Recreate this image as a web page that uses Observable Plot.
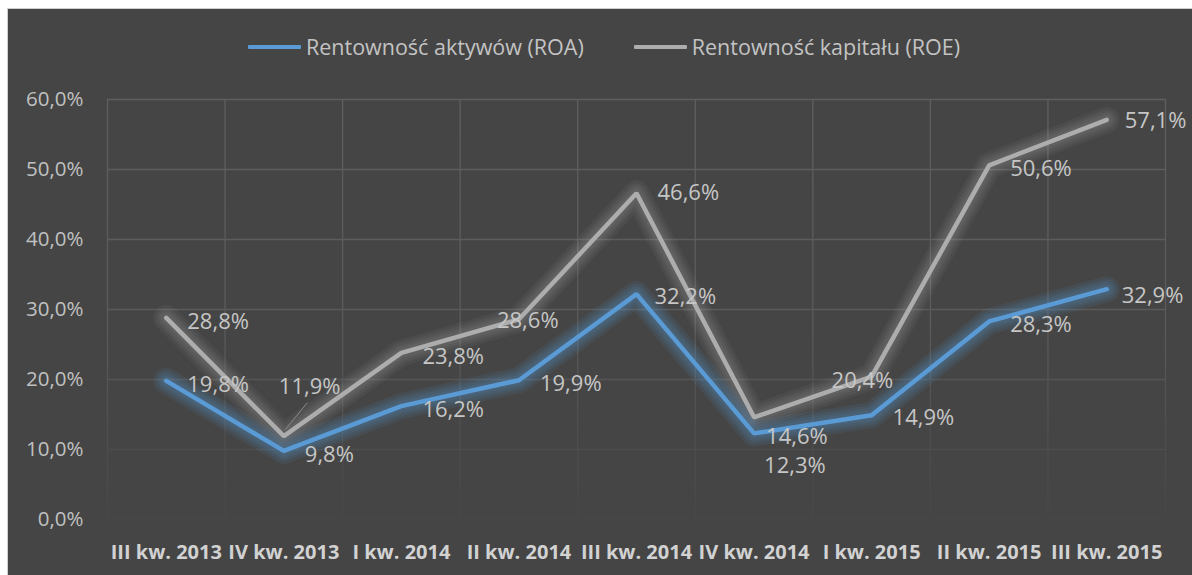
<!DOCTYPE html>
<html>
<head>
<meta charset="utf-8">
<script src="https://cdn.jsdelivr.net/npm/d3@7"></script>
<script src="https://cdn.jsdelivr.net/npm/@observablehq/plot@0.6"></script>
<style>
  html, body { margin: 0; padding: 0; background: #ffffff; }
  body { width: 1192px; height: 575px; overflow: hidden; position: relative; font-family: "Open Sans", sans-serif; }
  #frame {
    position: absolute; left: 7px; top: 8px; width: 1184px; height: 566px;
    border-left: 1px solid #cfcfcf; border-top: 1px solid #cfcfcf;
    background: #454545;
  }
  #legend {
    height: 70px; box-sizing: border-box; padding-top: 23px; padding-left: 8px;
    display: flex; justify-content: center; align-items: flex-start;
    font-size: 21.5px; line-height: 30px; color: #c3c3c3;
  }
  .item { display: flex; align-items: center; margin: 0 25px; }
  .sw { width: 53px; height: 4px; margin-right: 5px; border-radius: 1px; }
  #chart svg { display: block; }
</style>
</head>
<body>
<div id="frame">
  <div id="legend"></div>
  <div id="chart"></div>
</div>
<script>
// ---- data ----
const categories = ["III kw. 2013", "IV kw. 2013", "I kw. 2014", "II kw. 2014", "III kw. 2014", "IV kw. 2014", "I kw. 2015", "II kw. 2015", "III kw. 2015"];
const roa = [19.8, 9.8, 16.2, 19.9, 32.2, 12.3, 14.9, 28.3, 32.9];
const roe = [28.8, 11.9, 23.8, 28.6, 46.6, 14.6, 20.4, 50.6, 57.1];
const seriesNames = ["Rentowność aktywów (ROA)", "Rentowność kapitału (ROE)"];
const yTicks = [0, 10, 20, 30, 40, 50, 60];

// ---- styling ----
const colors = ["#5b9bd5", "#adadad"];
const fmt = v => v.toFixed(1).replace(".", ",") + "%";

// legend
const legend = document.getElementById("legend");
seriesNames.forEach((name, k) => {
  const it = document.createElement("div");
  it.className = "item";
  it.innerHTML = `<span class="sw" style="background:${colors[k]}"></span><span>${name}</span>`;
  legend.appendChild(it);
});

// table
const rows = [];
categories.forEach((c, i) => {
  rows.push({i, cat: c, v: roa[i], s: 0});
  rows.push({i, cat: c, v: roe[i], s: 1});
});
const roaRows = rows.filter(d => d.s === 0);
const roeRows = rows.filter(d => d.s === 1);
const bounds = d3.range(categories.length + 1).map(i => i - 0.5);

// label nudges in pixels (default dx 21, dy 4)
const nudge = {
  "1-1": [-5, -49], "1-3": [-22, 2], "1-5": [12, 20], "1-6": [-40, 4],
  "0-5": [10, 33], "0-8": [15, 7], "0-4": [18, 3], "1-8": [18, 1], "1-4": [21, 0], "0-6": [21, 3]
};
const labelMarks = rows.map(d => {
  const [dx, dy] = nudge[`${d.s}-${d.i}`] || [21, 4];
  return Plot.text([d], {x: "i", y: "v", text: d => fmt(d.v), dx, dy, textAnchor: "start",
    fill: "#c6c6c6", fontSize: 22});
});

const leader = (index, scales) => {
  const x = scales.x(1), y = scales.y(roe[1]);
  const l = document.createElementNS("http://www.w3.org/2000/svg", "line");
  l.setAttribute("x1", x + 2); l.setAttribute("y1", y - 6);
  l.setAttribute("x2", x + 24); l.setAttribute("y2", y - 33);
  l.setAttribute("stroke", "#8a8a8a"); l.setAttribute("stroke-width", 1);
  return l;
};

// soft glow under each series: stacked wide translucent strokes
const glow = (data, color, a) => [26, 20, 15, 10].map(w =>
  Plot.line(data, {x: "i", y: "v", stroke: color, strokeWidth: w, strokeOpacity: a, strokeLinejoin: "round", strokeLinecap: "round"})
);

const plot = Plot.plot({
  width: 1184,
  height: 496,
  marginTop: 20,
  marginBottom: 56,
  marginLeft: 99,
  marginRight: 27,
  style: {background: "transparent", color: "#c0c0c0", fontFamily: "Open Sans, sans-serif", fontSize: "20px"},
  x: {type: "linear", domain: [-0.5, categories.length - 0.5]},
  y: {domain: [0, 60]},
  marks: [
    Plot.ruleY(yTicks, {stroke: "url(#gridFade)", strokeWidth: 1.3}),
    Plot.ruleX(bounds, {y1: 0, y2: 60, stroke: "url(#gridFade)", strokeWidth: 1.3}),
    Plot.axisY(yTicks, {tickSize: 0, tickPadding: 24, tickFormat: fmt, label: null, fontSize: 20.5, fill: "#c0c0c0"}),
    Plot.axisX(d3.range(categories.length), {tickSize: 0, tickPadding: 25, tickFormat: i => categories[i], label: null,
      fontSize: 20, fontWeight: "bold", fill: "#d2d2d2"}),
    ...glow(roeRows, "#d0d0d0", 0.06),
    ...glow(roaRows, colors[0], 0.1),
    Plot.line(roeRows, {x: "i", y: "v", stroke: colors[1], strokeWidth: 4.5, strokeLinejoin: "miter"}),
    Plot.line(roaRows, {x: "i", y: "v", stroke: colors[0], strokeWidth: 4.5, strokeLinejoin: "miter"}),
    leader,
    ...labelMarks
  ]
});

document.getElementById("chart").appendChild(plot);

// defs: grid gradient
const ns = "http://www.w3.org/2000/svg";
const defs = document.createElementNS(ns, "defs");
defs.innerHTML = `
  <linearGradient id="gridFade" gradientUnits="userSpaceOnUse" x1="0" y1="20" x2="0" y2="440">
    <stop offset="0" stop-color="#5f5f5f"/>
    <stop offset="0.55" stop-color="#5a5a5a"/>
    <stop offset="0.8" stop-color="#4e4e4e"/>
    <stop offset="1" stop-color="#474747"/>
  </linearGradient>`;
plot.insertBefore(defs, plot.firstChild);
</script>
</body>
</html>
